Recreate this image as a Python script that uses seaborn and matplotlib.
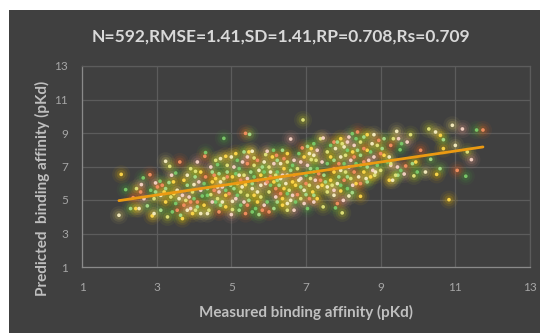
import matplotlib
matplotlib.use("Agg")
import matplotlib.pyplot as plt
from matplotlib.patches import Rectangle
import numpy as np
import pandas as pd
import seaborn as sns

# ---- data (measured vs predicted pKd) ----
meas_outer = [2.05,1.99,6.92,6.59,4.80,5.38,5.49,10.83,10.92,10.29,
              11.19,11.57,11.74,10.68,10.68,11.0,11.32,11.43,11.28,11.05,
              10.59,10.5,10.2,9.89,9.63,9.98,10.07,10.34,10.6,10.47,
              9.8,9.71,9.52,9.67,9.85,9.94,9.43,9.34,9.48,9.56,
              9.27,9.46,9.23,9.32,9.4,9.27,9.18,9.0,9.04,8.46,
              8.15,7.97,8.0,7.79,7.84,8.24,7.93,7.75,7.46,7.21]
pred_outer = [6.53,4.09,9.78,8.64,8.68,8.98,8.92,5.02,9.46,9.24,
              9.24,9.18,9.18,8.60,8.07,8.26,7.87,7.41,6.42,6.77,
              6.87,6.53,6.67,6.44,6.55,6.67,7.97,7.43,8.86,9.06,
              8.9,8.46,8.0,7.03,7.17,7.27,9.1,8.66,8.66,8.36,
              8.26,6.48,6.18,6.18,6.48,7.07,7.27,7.77,8.07,5.22,
              5.24,4.23,4.98,4.53,4.79,5.44,5.54,5.28,4.59,4.88]

meas_left = [2.17,2.37,2.3,2.44,2.53,2.46,2.59,2.64,2.82,2.75,
             2.88,2.93,3.29,2.97,3.09,3.02,2.97,3.2,3.24,3.35,
             3.4,3.51,3.62,3.33,3.45,3.55,3.38,3.69,3.51,3.73,
             3.64,3.69,3.82,3.91,4.09,4.31,4.29,4.03,4.18,4.0,
             3.96,4.18,4.22,3.91,4.09,3.96,4.18,4.4,4.45,4.63,
             4.54,4.67,4.49,4.63,4.45,4.67,4.58,4.67,4.71]
pred_left = [5.62,5.14,4.49,4.49,4.49,5.68,5.92,6.32,6.51,4.65,
             4.05,4.19,3.99,6.02,6.12,5.78,5.48,5.48,7.31,7.01,
             6.48,6.61,7.27,6.04,6.08,5.58,5.18,5.28,4.79,4.69,
             4.09,3.89,4.39,6.87,7.27,7.83,7.61,6.38,6.67,5.92,
             5.48,5.58,5.24,4.88,4.59,4.19,4.19,4.39,6.97,7.11,
             6.48,6.57,6.08,5.78,5.32,5.48,4.88,4.29,4.69]

meas_mid = [4.85,5.0,4.89,5.07,5.12,4.89,4.98,4.85,5.03,5.03,
            5.0,5.16,5.25,5.34,5.47,5.56,5.61,5.43,5.21,5.43,
            5.52,5.38,5.56,5.43,5.34,5.56,5.38,5.74,5.7,5.79,
            5.92,5.96,6.13,6.21,6.37,6.5,5.88,6.01,6.14,6.23,
            6.05,5.92,6.14,6.32,6.01,6.19,5.96,6.01,6.14,6.37,
            6.5,6.5,6.68,6.72,6.77,6.86,6.64,6.5,6.77,6.86,
            6.81,6.9,7.04,7.14,7.21,7.14,7.04,7.21,7.0,7.0,
            7.18,7.32]
pred_mid = [7.61,7.57,7.07,6.97,6.57,6.38,5.88,5.28,4.92,4.43,
            4.13,5.28,6.18,7.87,7.87,7.91,7.51,7.57,6.87,7.17,
            6.67,5.92,5.68,5.28,4.88,4.29,4.19,4.13,4.88,5.88,
            7.71,7.91,7.97,7.67,7.97,7.77,7.27,6.97,7.17,6.67,
            6.38,6.28,6.08,6.28,5.48,5.18,4.88,4.29,4.49,5.08,
            4.79,4.39,4.39,4.88,5.32,5.78,6.08,6.48,6.87,7.27,
            7.77,8.11,8.2,8.07,7.67,7.41,7.07,6.67,5.98,5.32,
            5.48,5.78]

meas_right = [7.39,7.46,7.66,7.75,7.84,7.93,7.79,7.57,7.43,7.57,
              7.75,7.48,7.66,7.84,7.57,8.15,8.24,8.38,8.55,8.64,
              8.82,8.46,8.29,8.11,8.29,8.46,8.64,8.77,8.91,8.68,
              8.46,8.29,8.11,8.34,8.61,8.84,8.79,8.91]
pred_right = [8.66,8.7,8.26,8.46,8.46,8.66,8.07,7.87,7.27,7.17,
              6.87,6.48,6.18,5.98,5.48,8.76,8.96,9.06,8.76,8.9,
              8.9,8.46,8.26,7.97,7.57,7.67,7.97,8.36,8.26,7.37,
              7.07,6.67,6.38,5.98,6.28,6.48,6.77,7.07]

meas_b1 = [3.15,3.24,3.46,3.6,3.78,3.87,4.0,4.09,3.82,3.73,
           3.82,4.04,4.13,4.27,4.31,4.36,4.27,4.36,4.04,3.91,
           3.42,3.55,3.11,3.24,3.11,2.93,2.66,2.84,2.57]
pred_b1 = [5.88,5.68,5.38,5.08,4.98,5.18,5.08,4.88,5.88,6.18,
           6.48,6.71,6.08,5.98,6.38,5.68,4.69,4.19,4.39,4.49,
           4.29,4.39,4.39,4.88,5.28,5.08,5.08,5.58,5.48]

meas_b2 = [4.49,4.58,4.71,4.8,4.76,4.85,4.94,5.07,5.16,5.29,
           5.25,5.12,5.25,5.43,5.47,5.61,5.7,5.79,5.88,5.65,
           5.83,5.21,4.85,4.76,4.63,4.49,4.36,4.54,4.89,5.03,
           5.21,5.34,5.43,5.61,5.7,5.56,5.79,5.74,5.61,5.3,
           5.16,5.7,5.83,5.12,4.71,4.58]
pred_b2 = [6.67,6.28,6.08,6.28,5.78,5.58,5.38,5.68,5.98,5.78,
           5.48,5.08,4.69,4.69,4.98,5.28,5.48,5.18,4.69,4.49,
           4.39,4.39,4.59,4.88,5.08,4.88,5.28,5.58,6.67,6.38,
           6.48,6.48,6.28,6.38,6.18,5.98,6.48,6.77,7.07,7.27,
           7.37,7.37,6.97,7.77,7.47,7.37]

meas_b3 = [5.92,6.05,6.19,6.28,6.41,6.46,6.55,6.64,6.5,6.32,
           6.23,6.37,6.59,6.86,6.95,7.04,7.09,7.21,7.3,6.95,
           7.09,6.86,7.0,6.68,6.59,6.41,6.32,6.5,6.68,6.64,
           6.41,6.23,6.1,6.05,6.19,6.37,5.88,5.96,6.23,6.72,
           6.81,7.12,7.25,7.3,7.34,7.12,6.95,7.09,7.27,7.3,
           7.21]
pred_b3 = [5.98,5.88,5.68,5.88,5.68,5.98,5.58,5.28,5.38,5.38,
           4.88,4.69,4.98,5.08,4.79,4.49,5.08,5.28,5.08,5.58,
           5.88,6.28,6.48,6.48,6.77,6.87,7.17,7.27,7.37,7.07,
           7.47,7.37,7.57,6.67,6.48,6.48,6.67,6.08,6.18,5.88,
           6.18,6.28,6.18,6.87,6.57,6.87,7.57,7.77,7.37,7.97,
           8.36]

meas_b4 = [7.39,7.52,7.43,7.57,7.7,7.75,7.93,8.02,7.88,7.75,
           7.93,8.06,8.15,8.02,7.88,7.75,7.66,7.93,8.06,8.2,
           8.34,8.55,8.64,8.55,8.41,8.2,8.25,8.11,8.46,8.64,
           8.73,8.86,9.0,8.82,8.73,8.55,8.38,8.25,8.02,7.97,
           8.11,8.34,8.95,9.09,9.09,9.23,9.27,9.45,9.54]
pred_b4 = [6.18,6.08,5.88,5.78,5.88,5.58,5.88,6.18,6.38,6.67,
           6.77,6.67,6.97,7.17,7.17,7.37,7.57,7.57,7.67,7.37,
           7.17,7.27,6.97,6.67,6.38,6.28,5.88,5.68,5.98,6.08,
           6.38,6.67,6.77,7.57,7.87,8.07,7.97,7.87,8.17,8.36,
           8.46,8.66,8.56,8.66,7.67,7.57,7.17,6.97,6.77]

title_text = "N=592,RMSE=1.41,SD=1.41,RP=0.708,Rs=0.709"
xlabel_text = "Measured binding affinity (pKd)"
ylabel_text = "Predicted  binding affinity (pKd)"
ticks = [1, 3, 5, 7, 9, 11, 13]

# ---- build table ----
meas = meas_outer + meas_left + meas_mid + meas_right + meas_b1 + meas_b2 + meas_b3 + meas_b4
pred = pred_outer + pred_left + pred_mid + pred_right + pred_b1 + pred_b2 + pred_b3 + pred_b4
df = pd.DataFrame({"measured": meas, "predicted": pred})
glow_pal = ["#e0b000", "#e06020", "#d89480", "#d8c860", "#6cb83c", "#48a038", "#b8c020"]
core_pal = ["#ffd84a", "#f59060", "#f8d4c6", "#f7eec0", "#a8dd88", "#7ccc6a", "#e2e47a"]
df["tone"] = [(i * 3) % len(glow_pal) for i in range(len(df))]

sns.set_theme(style="dark")
plt.rcParams["font.family"] = ["Lato", "DejaVu Sans"]

W, H = 540, 333
fig = plt.figure(figsize=(W / 100, H / 100), dpi=100)
fig.patch.set_facecolor("white")
fig.add_artist(Rectangle((9 / W, 0), 1 - 9 / W, (H - 10) / H, transform=fig.transFigure,
                         facecolor="#404040", edgecolor="none", zorder=0))

ax = fig.add_axes([82 / W, (H - 267) / H, 448 / W, 201 / H])
ax.set_facecolor("#404040")

for s, a in [(170, 0.07), (90, 0.11), (40, 0.18)]:
    sns.scatterplot(data=df, x="measured", y="predicted", hue="tone",
                    palette=dict(enumerate(glow_pal)), s=s, alpha=a,
                    linewidth=0, legend=False, ax=ax, zorder=3)
sns.scatterplot(data=df, x="measured", y="predicted", hue="tone",
                palette=dict(enumerate(core_pal)), s=7, alpha=0.95,
                linewidth=0, legend=False, ax=ax, zorder=4)
sns.regplot(data=df, x="measured", y="predicted", scatter=False, ci=None,
            color="#eb9a12", line_kws={"lw": 2.0, "zorder": 5}, ax=ax)

ax.set_xlim(1, 13)
ax.set_ylim(1, 13)
ax.set_xticks(ticks)
ax.set_yticks(ticks)
ax.set_xticklabels([str(t) for t in ticks])
ax.set_yticklabels([str(t) for t in ticks])
ax.grid(True, color="#5c5c5c", lw=0.9)
ax.set_axisbelow(True)
for side in ["top", "right"]:
    ax.spines[side].set_color("#5c5c5c")
    ax.spines[side].set_linewidth(0.9)
for side in ["left", "bottom"]:
    ax.spines[side].set_color("#8a8a8a")
    ax.spines[side].set_linewidth(0.9)
ax.tick_params(axis="both", length=0, labelcolor="#a6a6a6", labelsize=8.5)
ax.tick_params(axis="x", pad=11)
ax.tick_params(axis="y", pad=10)
ax.set_xlabel("")
ax.set_ylabel("")

fig.text(281 / W, 1 - 37 / H, title_text, ha="center", va="center",
         color="#d9d9d9", fontsize=12.5, fontweight="bold")
fig.text(306 / W, 1 - 312 / H, xlabel_text, ha="center", va="center",
         color="#bfbfbf", fontsize=11, fontweight="bold")
fig.text(42 / W, 1 - 188 / H, ylabel_text, ha="center", va="center", rotation=90,
         color="#bfbfbf", fontsize=11, fontweight="bold")

fig.savefig("out.png", dpi=100, facecolor=fig.get_facecolor())
